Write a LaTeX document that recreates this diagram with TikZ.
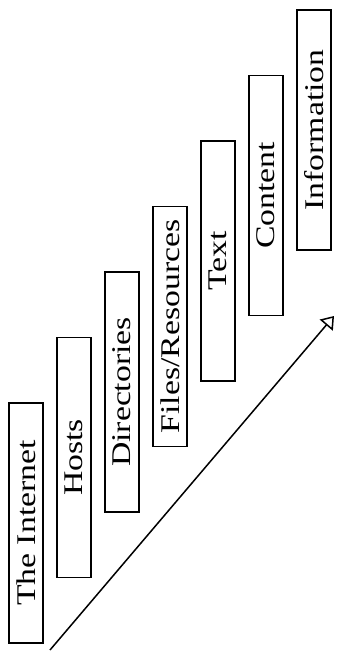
\documentclass[tikz,border=0pt]{standalone}
\usepackage{fontspec}
\setmainfont{Liberation Serif}
\usetikzlibrary{arrows.meta}
\begin{document}
\begin{tikzpicture}[x=1pt, y=-1pt,
  level/.style={draw=black, line width=1.6pt, rotate=90, inner sep=0pt,
    minimum width=240pt, minimum height=34pt,
    font=\fontsize{27}{30}\selectfont},
  rise/.style={line width=1.5pt, -{Triangle[open, length=12pt, width=17pt, line width=1.5pt]}}]
  \useasboundingbox (0,0) rectangle (337,651);
  % staircase of levels, lowest on the left
  \node[level] (b1) at (26,523)   {\scalebox{1.25}[1]{The Internet}};
  \node[level] (b2) at (74,457.5) {\scalebox{1.25}[1]{Hosts}};
  \node[level] (b3) at (122,392)  {\scalebox{1.25}[1]{Directories}};
  \node[level] (b4) at (170,326.5){\scalebox{1.25}[1]{Files/Resources}};
  \node[level] (b5) at (218,261)  {\scalebox{1.25}[1]{Text}};
  \node[level] (b6) at (266,195.5){\scalebox{1.25}[1]{Content}};
  \node[level] (b7) at (314,130)  {\scalebox{1.25}[1]{Information}};
  % rising arrow beneath the steps
  \coordinate (lo) at (50,650);
  \coordinate (hi) at (334,316);
  \draw[rise] (lo) -- (hi);
\end{tikzpicture}
\end{document}
